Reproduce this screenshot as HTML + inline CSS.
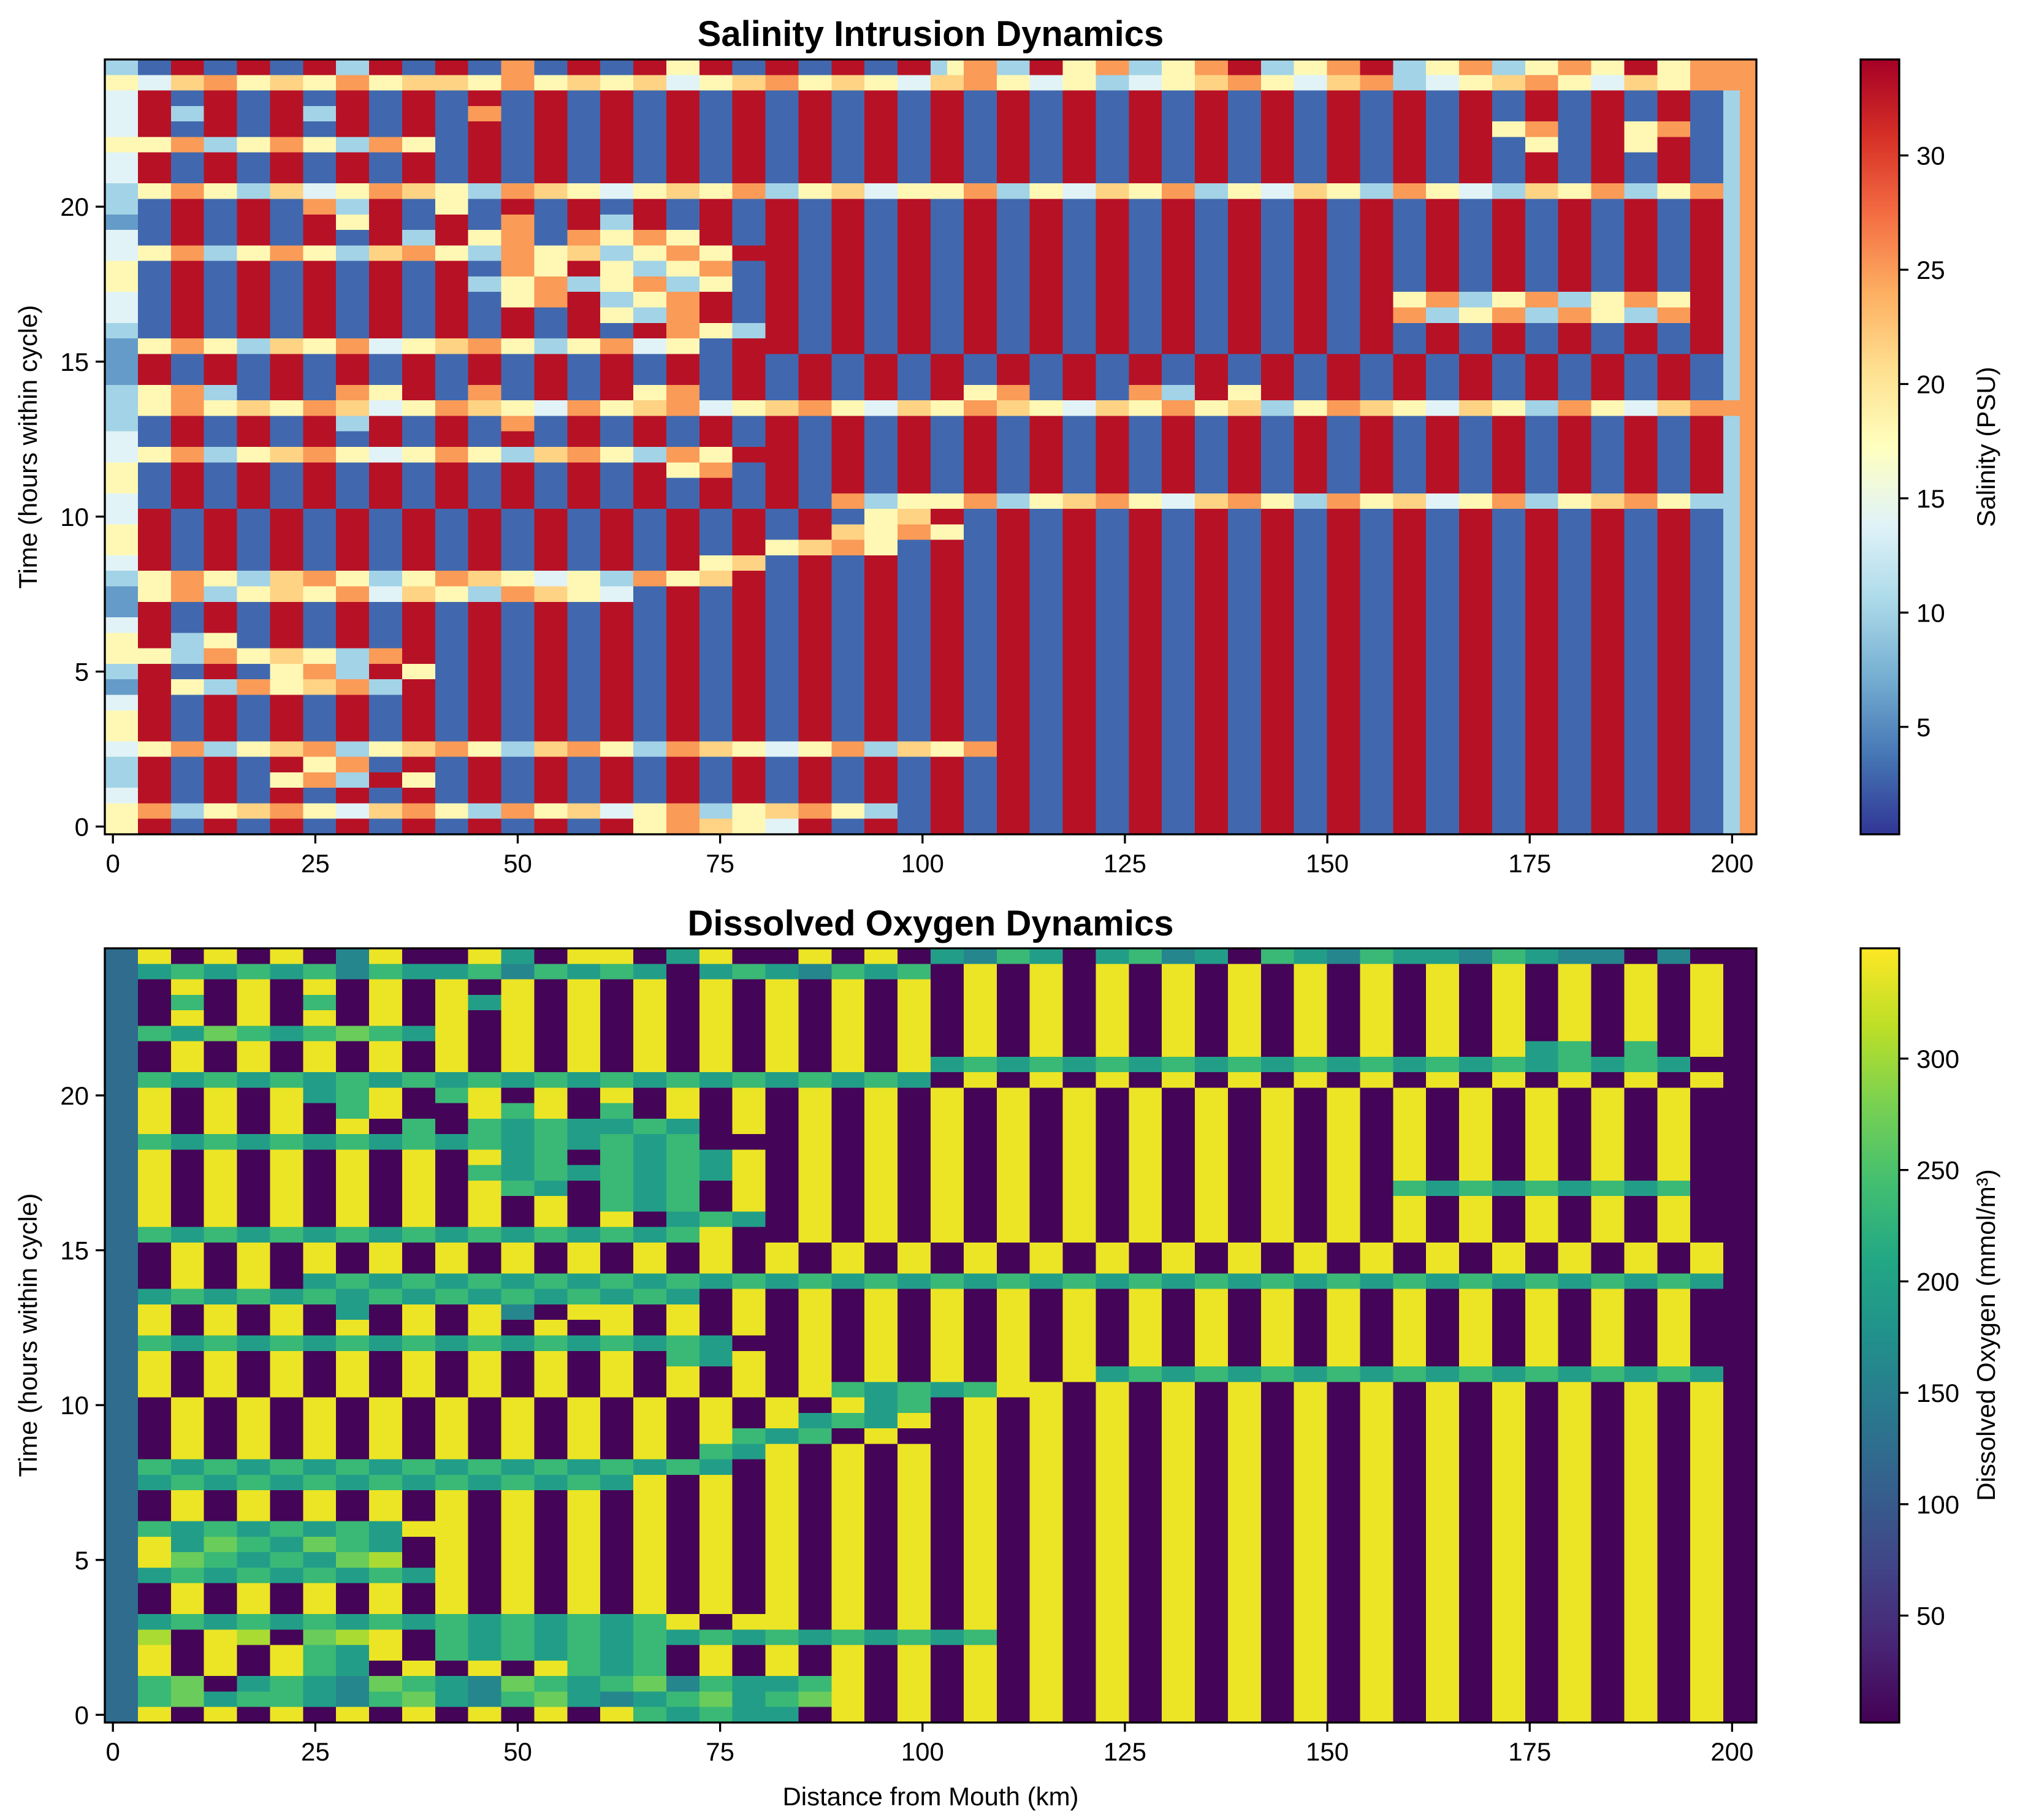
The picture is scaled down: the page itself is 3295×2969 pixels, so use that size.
<!DOCTYPE html>
<html>
<head>
<meta charset="utf-8">
<style>
  html,body{margin:0;padding:0;background:#fff;}
  svg{display:block;}
  text{font-family:"Liberation Sans","DejaVu Sans",sans-serif;fill:#000;}
</style>
</head>
<body>
<svg id="fig" xmlns="http://www.w3.org/2000/svg" width="3295" height="2969" viewBox="0 0 3295 2969">
  <rect x="0" y="0" width="3295" height="2969" fill="#fff"/>
  <defs>
    <linearGradient id="gradSal" x1="0" y1="1" x2="0" y2="0"></linearGradient>
    <linearGradient id="gradDO" x1="0" y1="1" x2="0" y2="0"></linearGradient>
  </defs>
  <g id="salPlot"></g>
  <g id="doPlot"></g>
  <text x="1518" y="75" font-size="58" font-weight="bold" text-anchor="middle">Salinity Intrusion Dynamics</text>
  <text x="1518" y="1526" font-size="58" font-weight="bold" text-anchor="middle">Dissolved Oxygen Dynamics</text>
  <text x="1518" y="2945" font-size="42" text-anchor="middle">Distance from Mouth (km)</text>
  <text transform="translate(60,729) rotate(-90)" font-size="42" text-anchor="middle">Time (hours within cycle)</text>
  <text transform="translate(60,2178) rotate(-90)" font-size="42" text-anchor="middle">Time (hours within cycle)</text>
  <text transform="translate(3254,729) rotate(-90)" font-size="42" text-anchor="middle">Salinity (PSU)</text>
  <text transform="translate(3254,2178) rotate(-90)" font-size="42" text-anchor="middle">Dissolved Oxygen (mmol/m³)</text>
</svg>
<script>
// ---------- DATA ----------
// Rows listed from top (24.5 h) down to bottom (0 h); each char is a level code for one distance cell.
const xTicks = [0, 25, 50, 75, 100, 125, 150, 175, 200];
const yTicks = [0, 5, 10, 15, 20];
const salTicks = [5, 10, 15, 20, 25, 30];
const doTicks = [50, 100, 150, 200, 250, 300];
const salLevels = [1, 3, 6, 10, 14, 18, 21.5, 25, 29, 33];
const doLevels = [5, 40, 80, 125, 160, 195, 235, 270, 305, 340];
const salRows = [
"3311991199 1199339911 9911771199 1199559911 9911991199 3577339955 7733557799 3355779933 5577335577 5599557777",
"5544667755 6655775566 6655775566 5566445566 7755665544 6677554455 3344556677 5544667733 4455667755 4466557777",
"4499119911 9911991199 1199119911 9911991199 1199119911 9911991199 1199119911 9911991199 1199119911 9911991137",
"4499339911 9933991199 1177119911 9911991199 1199119911 9911991199 1199119911 9911991199 1199119911 9911991137",
"4499119911 9911991199 1199119911 9911991199 1199119911 9911991199 1199119911 9911991199 1199557711 9955771137",
"5555773355 7755337755 1199119911 9911991199 1199119911 9911991199 1199119911 9911991199 1199115511 9955991137",
"4499119911 9911991199 1199119911 9911991199 1199119911 9911991199 1199119911 9911991199 1199119911 9911991137",
"4499119911 9911991199 1199119911 9911991199 1199119911 9911991199 1199119911 9911991199 1199119911 9911991137",
"3355775533 6644557766 5533776655 4455665577 3355664455 5577335544 6655773355 4466553377 5544336655 7733557737",
"3311991199 1177339911 5511991199 1199119911 9911991199 1199119911 9911991199 1199119911 9911991199 1199119937",
"2211991199 1199559911 9911771199 3399119911 9911991199 1199119911 9911991199 1199119911 9911991199 1199119937",
"4411991199 1199119933 9955771177 5577559911 9911991199 1199119911 9911991199 1199119911 9911991199 1199119937",
"4455773355 7755336677 5533775566 3355775599 9911991199 1199119911 9911991199 1199119911 9911991199 1199119937",
"5511991199 1199119911 9911775599 5533557711 9911991199 1199119911 9911991199 1199119911 9911991199 1199119937",
"5511991199 1199119911 9933557733 5577335511 9911991199 1199119911 9911991199 1199119911 9911991199 1199119937",
"4411991199 1199119911 9911557799 3355779911 9911991199 1199119911 9911991199 1199119955 7733557733 5577559937",
"4411991199 1199119911 9911991199 5533779911 9911991199 1199119911 9911991199 1199119977 3355773377 5533779937",
"3311991199 1199119911 9911991199 1199775533 9911991199 1199119911 9911991199 1199119911 9911991199 1199119937",
"2255775533 6655774455 6677553355 7744551199 9911991199 1199119911 9911991199 1199119911 9911991199 1199119937",
"2299119911 9911991199 1199119911 9911991199 1199119911 9911991199 1199119911 9911991199 1199119911 9911991137",
"2299119911 9911991199 1199119911 9911991199 1199119911 9911991199 1199119911 9911991199 1199119911 9911991137",
"3355773311 9911775599 1177119911 9955771199 1199119911 9955771199 1177339955 9911991199 1199119911 9911991137",
"3355775566 5577664455 7766554477 5566774455 6677554466 5577665544 6655775566 3355776655 4466553377 5544667777",
"3311991199 1199339911 9911771199 1199119911 9911991199 1199119911 9911991199 1199119911 9911991199 1199119937",
"4411991199 1199119911 9911991199 1199119911 9911991199 1199119911 9911991199 1199119911 9911991199 1199119937",
"4455773355 6677554455 7755336677 5533775599 9911991199 1199119911 9911991199 1199119911 9911991199 1199119937",
"5511991199 1199119911 9911991199 1199557711 9911991199 1199119911 9911991199 1199119911 9911991199 1199119937",
"5511991199 1199119911 9911991199 1199119911 9911991199 1199119911 9911991199 1199119911 9911991199 1199119937",
"4411991199 1199119911 9911991199 1199119911 9911773355 5577335566 7755446677 5533775566 4455773355 6677553337",
"4499119911 9911991199 1199119911 9911991199 1199115566 9911991199 1199119911 9911991199 1199119911 9911991137",
"5599119911 9911991199 1199119911 9911991199 1199665577 5511991199 1199119911 9911991199 1199119911 9911991137",
"5599119911 9911991199 1199119911 9911991199 5566775511 9911991199 1199119911 9911991199 1199119911 9911991137",
"4499119911 9911991199 1199119911 9911995566 1199119911 9911991199 1199119911 9911991199 1199119911 9911991137",
"3355775533 6677553355 7766554455 3377556699 1199119911 9911991199 1199119911 9911991199 1199119911 9911991137",
"2255773355 6655774466 5533776655 4411991199 1199119911 9911991199 1199119911 9911991199 1199119911 9911991137",
"2299119911 9911991199 1199119911 9911991199 1199119911 9911991199 1199119911 9911991199 1199119911 9911991137",
"4499119911 9911991199 1199119911 9911991199 1199119911 9911991199 1199119911 9911991199 1199119911 9911991137",
"5599335511 9911991199 1199119911 9911991199 1199119911 9911991199 1199119911 9911991199 1199119911 9911991137",
"5555337755 6655337799 1199119911 9911991199 1199119911 9911991199 1199119911 9911991199 1199119911 9911991137",
"3399119911 5577339955 1199119911 9911991199 1199119911 9911991199 1199119911 9911991199 1199119911 9911991137",
"2299553377 5566773399 1199119911 9911991199 1199119911 9911991199 1199119911 9911991199 1199119911 9911991137",
"4499119911 9911991199 1199119911 9911991199 1199119911 9911991199 1199119911 9911991199 1199119911 9911991137",
"5599119911 9911991199 1199119911 9911991199 1199119911 9911991199 1199119911 9911991199 1199119911 9911991137",
"5599119911 9911991199 1199119911 9911991199 1199119911 9911991199 1199119911 9911991199 1199119911 9911991137",
"4455773355 6677335566 7755336677 5533776655 4455773366 5577991199 1199119911 9911991199 1199119911 9911991137",
"3399119911 9955771199 1199119911 9911991199 1199119911 9911991199 1199119911 9911991199 1199119911 9911991137",
"3399119911 5577339955 1199119911 9911991199 1199119911 9911991199 1199119911 9911991199 1199119911 9911991137",
"4499119911 9911991199 1199119911 9911991199 1199119911 9911991199 1199119911 9911991199 1199119911 9911991137",
"5577335566 7755446677 5533775566 4455773355 6677553311 9911991199 1199119911 9911991199 1199119911 9911991137",
"5599119911 9911991199 1199119911 9955776655 4499119911 9911991199 1199119911 9911991199 1199119911 9911991137"
];
const doRows = [
"3399009900 9900449900 0099550099 9900559900 0099009900 5544665500 5566445500 6655446655 5544665544 4400440000",
"3355665566 5566446655 5566446655 6655005566 5544665566 0099009900 9900990099 0099009900 9900990099 0099009900",
"3300990099 0099009900 9900990099 0099009900 9900990099 0099009900 9900990099 0099009900 9900990099 0099009900",
"3300660099 0066009900 9955990099 0099009900 9900990099 0099009900 9900990099 0099009900 9900990099 0099009900",
"3300990099 0099009900 9900990099 0099009900 9900990099 0099009900 9900990099 0099009900 9900990099 0099009900",
"3366557766 5566776655 9900990099 0099009900 9900990099 0099009900 9900990099 0099009900 9900990099 0099009900",
"3300990099 0099009900 9900990099 0099009900 9900990099 0099009900 9900990099 0099009900 9900995566 0066009900",
"3300990099 0099009900 9900990099 0099009900 9900990099 5566556655 6655665566 5566556655 6655665566 5566550000",
"3366556655 6655665566 5566556655 6655665566 5566556655 0099009900 9900990099 0099009900 9900990099 0099009900",
"3399009900 9955669900 6699009900 9900990099 0099009900 9900990099 0099009900 9900990099 0099009900 9900990000",
"3399009900 9900669900 0099669900 6600990099 0099009900 9900990099 0099009900 9900990099 0099009900 9900990000",
"3399009900 9900990066 0066556655 5566550099 0099009900 9900990099 0099009900 9900990099 0099009900 9900990000",
"3366556655 6655665566 5566556655 6655660000 0099009900 9900990099 0099009900 9900990099 0099009900 9900990000",
"3399009900 9900990099 0099556600 6655665599 0099009900 9900990099 0099009900 9900990099 0099009900 9900990000",
"3399009900 9900990099 0066556655 6655665599 0099009900 9900990099 0099009900 9900990099 0099009900 9900990000",
"3399009900 9900990099 0099665500 6655660099 0099009900 9900990099 0099009900 9900990066 5566556655 6655660000",
"3399009900 9900990099 0099009900 6655660099 0099009900 9900990099 0099009900 9900990099 0099009900 9900990000",
"3399009900 9900990099 0099009900 9900556655 0099009900 9900990099 0099009900 9900990099 0099009900 9900990000",
"3366556655 6655665566 5566556655 6655669900 0099009900 9900990099 0099009900 9900990099 0099009900 9900990000",
"3300990099 0099009900 9900990099 0099009900 9900990099 0099009900 9900990099 0099009900 9900990099 0099009900",
"3300990099 0099009900 9900990099 0099009900 9900990099 0099009900 9900990099 0099009900 9900990099 0099009900",
"3300990099 0055665566 5566556655 6655665566 5566556655 6655665566 5566556655 6655665566 5566556655 6655665500",
"3355665566 5566556655 6655665566 5566550099 0099009900 9900990099 0099009900 9900990099 0099009900 9900990000",
"3399009900 9900550099 0099440099 9900990099 0099009900 9900990099 0099009900 9900990099 0099009900 9900990000",
"3399009900 9900990099 0099009900 9900990099 0099009900 9900990099 0099009900 9900990099 0099009900 9900990000",
"3366556655 6655665566 5566556655 6655665500 0099009900 9900990099 0099009900 9900990099 0099009900 9900990000",
"3399009900 9900990099 0099009900 9900665599 0099009900 9900990099 0099009900 9900990099 0099009900 9900990000",
"3399009900 9900990099 0099009900 9900990099 0099009900 9900990099 5566556655 6655665566 5566556655 6655665500",
"3399009900 9900990099 0099009900 9900990099 0099665566 5566999900 9900990099 0099009900 9900990099 0099009900",
"3300990099 0099009900 9900990099 0099009900 9900995566 0099009900 9900990099 0099009900 9900990099 0099009900",
"3300990099 0099009900 9900990099 0099009900 9955665599 0099009900 9900990099 0099009900 9900990099 0099009900",
"3300990099 0099009900 9900990099 0099009966 5566009900 0099009900 9900990099 0099009900 9900990099 0099009900",
"3300990099 0099009900 9900990099 0099006655 9900990099 0099009900 9900990099 0099009900 9900990099 0099009900",
"3366556655 6655665566 5566556655 6655665500 9900990099 0099009900 9900990099 0099009900 9900990099 0099009900",
"3355665566 5566556655 6655665566 5599009900 9900990099 0099009900 9900990099 0099009900 9900990099 0099009900",
"3300990099 0099009900 9900990099 0099009900 9900990099 0099009900 9900990099 0099009900 9900990099 0099009900",
"3300990099 0099009900 9900990099 0099009900 9900990099 0099009900 9900990099 0099009900 9900990099 0099009900",
"3366556655 6655665599 9900990099 0099009900 9900990099 0099009900 9900990099 0099009900 9900990099 0099009900",
"3399557766 5577665500 9900990099 0099009900 9900990099 0099009900 9900990099 0099009900 9900990099 0099009900",
"3399776655 6655778800 9900990099 0099009900 9900990099 0099009900 9900990099 0099009900 9900990099 0099009900",
"3355665566 5566556655 9900990099 0099009900 9900990099 0099009900 9900990099 0099009900 9900990099 0099009900",
"3300990099 0099009900 9900990099 0099009900 9900990099 0099009900 9900990099 0099009900 9900990099 0099009900",
"3300990099 0099009900 9900990099 0099009900 9900990099 0099009900 9900990099 0099009900 9900990099 0099009900",
"3355665566 5566556655 6655665566 5566990099 9900990099 0099009900 9900990099 0099009900 9900990099 0099009900",
"3388009988 0077889900 6655665566 5566556655 6655665566 5566009900 9900990099 0099009900 9900990099 0099009900",
"3399009900 9966559900 6655665566 5566009900 9900990099 0099009900 9900990099 0099009900 9900990099 0099009900",
"3399009900 9966550099 0099009966 5566009900 9900990099 0099009900 9900990099 0099009900 9900990099 0099009900",
"3366770055 6655447766 5544776655 6677446655 5566990099 0099009900 9900990099 0099009900 9900990099 0099009900",
"3366775566 6655446677 5544667755 4455667755 6677990099 0099009900 9900990099 0099009900 9900990099 0099009900",
"3399009900 9900990099 0099009900 9966556655 5500990099 0099009900 9900990099 0099009900 9900990099 0099009900"
];

// ---------- RENDERING ----------
const NS = "http://www.w3.org/2000/svg";
const RDYLBU_R = ["#313695","#4575b4","#74add1","#abd9e9","#e0f3f8","#ffffbf","#fee090","#fdae61","#f46d43","#d73027","#a50026"];
const VIRIDIS = ["#440154","#482475","#414487","#355f8d","#2a788e","#21918c","#22a884","#44bf70","#7ad151","#bddf26","#fde725"];
function hex2rgb(h){return [parseInt(h.slice(1,3),16),parseInt(h.slice(3,5),16),parseInt(h.slice(5,7),16)];}
function cmap(stops,t){
  t=Math.max(0,Math.min(1,t));
  const p=t*(stops.length-1), i=Math.min(Math.floor(p),stops.length-2), f=p-i;
  const a=hex2rgb(stops[i]), b=hex2rgb(stops[i+1]);
  return "rgb("+a.map((v,k)=>Math.round(v+(b[k]-v)*f)).join(",")+")";
}
function mk(tag,attrs,parent){
  const e=document.createElementNS(NS,tag);
  for(const k in attrs) e.setAttribute(k,attrs[k]);
  if(parent) parent.appendChild(e);
  return e;
}
const AX = {left:171, right:2865};
const xMin=-1, xMax=203, yMin=-0.25, yMax=24.75;
function xScale(v){return AX.left+(v-xMin)/(xMax-xMin)*(AX.right-AX.left);}

function drawPanel(g, rows, levels, stops, vmin, vmax, top, bottom, cbTicks, gradId, prefix){
  const yScale=v=>bottom-(v-yMin)/(yMax-yMin)*(bottom-top);
  const cells=mk("g",{"shape-rendering":"crispEdges"},g);
  
  
  const nR=rows.length;
  const cw=(xMax-xMin)/100, rh=0.5;
  rows.forEach((rs,ri)=>{
    const s=rs.replace(/ /g,"");
    const yv=(nR-1-ri)*rh;
    for(let c=0;c<s.length;c++){
      const val=levels[+s[c]];
      const x0=xScale(xMin+c*cw), x1=xScale(xMin+(c+1)*cw);
      const y0=yScale(yv+rh/2), y1=yScale(yv-rh/2);
      const r=mk("rect",{x:x0.toFixed(1),y:y0.toFixed(1),width:(x1-x0+0.6).toFixed(1),height:(y1-y0+0.6).toFixed(1),fill:cmap(stops,(val-vmin)/(vmax-vmin))},cells);
      
      
    }
  });
  const frame=mk("rect",{x:AX.left,y:top,width:AX.right-AX.left,height:bottom-top,fill:"none",stroke:"#000","stroke-width":3.3},g);
  
  
  xTicks.forEach(t=>{
    const x=xScale(t);
    const tk=mk("line",{x1:x,y1:bottom,x2:x,y2:bottom+15,stroke:"#000","stroke-width":3.3},g);
    
    
    const lb=mk("text",{x:x,y:bottom+62,"font-size":42,"text-anchor":"middle"},g);
    lb.textContent=t;
    
    
  });
  yTicks.forEach(t=>{
    const y=yScale(t);
    const tk=mk("line",{x1:AX.left-15,y1:y,x2:AX.left,y2:y,stroke:"#000","stroke-width":3.3},g);
    
    
    const lb=mk("text",{x:AX.left-26,y:y+15,"font-size":42,"text-anchor":"end"},g);
    lb.textContent=t;
    
    
  });
  const grad=document.getElementById(gradId);
  stops.forEach((c,i)=>mk("stop",{offset:(i/(stops.length-1)).toFixed(3),"stop-color":c},grad));
  const cbL=3035, cbR=3098;
  const cb=mk("rect",{x:cbL,y:top,width:cbR-cbL,height:bottom-top,fill:"url(#"+gradId+")",stroke:"#000","stroke-width":3.3},g);
  
  
  const cy=v=>bottom-(v-vmin)/(vmax-vmin)*(bottom-top);
  cbTicks.forEach(t=>{
    const y=cy(t);
    const tk=mk("line",{x1:cbR,y1:y,x2:cbR+15,y2:y,stroke:"#000","stroke-width":3.3},g);
    
    
    const lb=mk("text",{x:cbR+28,y:y+15,"font-size":42,"text-anchor":"start"},g);
    lb.textContent=t;
    
    
  });
}
drawPanel(document.getElementById("salPlot"), salRows, salLevels, RDYLBU_R, 0.3, 34.2, 97, 1361, salTicks, "gradSal", "salinity");
drawPanel(document.getElementById("doPlot"), doRows, doLevels, VIRIDIS, 2, 349.5, 1547, 2810, doTicks, "gradDO", "oxygen");
</script>
</body>
</html>
